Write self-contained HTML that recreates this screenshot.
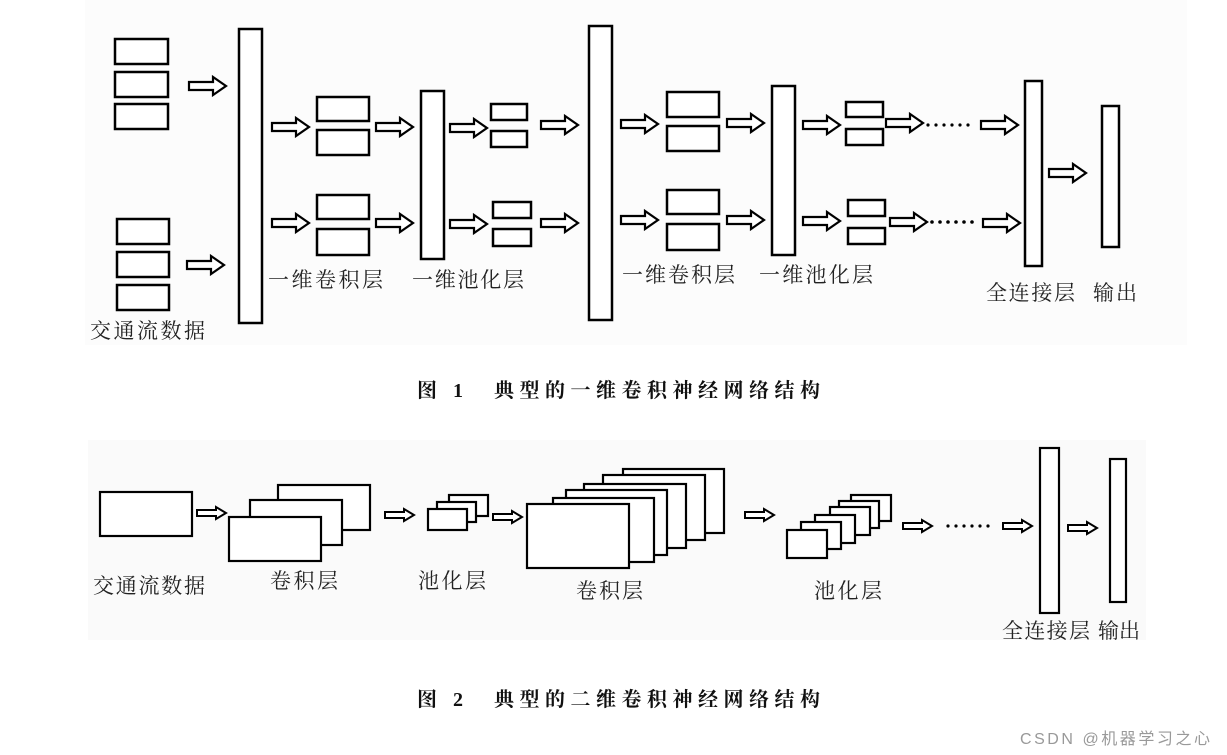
<!DOCTYPE html>
<html><head><meta charset="utf-8"><style>
html,body{margin:0;padding:0;background:#fff;}
svg{display:block;}
.t{font-family:"Liberation Serif","Noto Serif CJK SC","Noto Sans CJK SC",serif;fill:#222;}
.c{font-family:"Liberation Serif","Noto Serif CJK SC",serif;font-weight:bold;fill:#111;}
</style></head><body>
<svg width="1227" height="755" viewBox="0 0 1227 755" xmlns="http://www.w3.org/2000/svg">
<defs>
<path id="a1" d="M0,-4 H24 V-9 L37,0 L24,9 V4 H0 Z" fill="#fff" stroke="#000" stroke-width="2.2"/>
<path id="a2" d="M0,-3 H19 V-6 L29,0 L19,6 V3 H0 Z" fill="#fff" stroke="#000" stroke-width="2"/>
</defs>
<rect x="85" y="0" width="1102" height="345" fill="#fcfcfc"/>
<rect x="88" y="440" width="1058" height="200" fill="#fafafa"/>
<g fill="#fff" stroke="#000" stroke-width="2.5">
<!-- fig1 input -->
<rect x="115" y="39" width="53" height="25"/><rect x="115" y="72" width="53" height="25"/><rect x="115" y="104" width="53" height="25"/>
<rect x="117" y="219" width="52" height="25"/><rect x="117" y="252" width="52" height="25"/><rect x="117" y="285" width="52" height="25"/>
<rect x="239" y="29" width="23" height="294"/>
<rect x="317" y="97" width="52" height="24"/><rect x="317" y="130" width="52" height="25"/>
<rect x="317" y="195" width="52" height="24"/><rect x="317" y="229" width="52" height="26"/>
<rect x="421" y="91" width="23" height="168"/>
<rect x="491" y="104" width="36" height="16"/><rect x="491" y="131" width="36" height="16"/>
<rect x="493" y="202" width="38" height="16"/><rect x="493" y="229" width="38" height="17"/>
<rect x="589" y="26" width="23" height="294"/>
<rect x="667" y="92" width="52" height="25"/><rect x="667" y="126" width="52" height="25"/>
<rect x="667" y="190" width="52" height="24"/><rect x="667" y="224" width="52" height="26"/>
<rect x="772" y="86" width="23" height="169"/>
<rect x="846" y="102" width="37" height="15"/><rect x="846" y="129" width="37" height="16"/>
<rect x="848" y="200" width="37" height="16"/><rect x="848" y="228" width="37" height="16"/>
<rect x="1025" y="81" width="17" height="185"/>
<rect x="1102" y="106" width="17" height="141"/>
</g>
<g>
<use href="#a1" x="189" y="86"/><use href="#a1" x="187" y="265"/>
<use href="#a1" x="272" y="127"/><use href="#a1" x="272" y="223"/>
<use href="#a1" x="376" y="127"/><use href="#a1" x="376" y="223"/>
<use href="#a1" x="450" y="128"/><use href="#a1" x="450" y="224"/>
<use href="#a1" x="541" y="125"/><use href="#a1" x="541" y="223"/>
<use href="#a1" x="621" y="124"/><use href="#a1" x="621" y="220"/>
<use href="#a1" x="727" y="123"/><use href="#a1" x="727" y="220"/>
<use href="#a1" x="803" y="125"/><use href="#a1" x="803" y="221"/>
<use href="#a1" x="886" y="123"/><use href="#a1" x="890" y="222"/>
<use href="#a1" x="981" y="125"/><use href="#a1" x="983" y="223"/>
<use href="#a1" x="1049" y="173"/>
</g>
<g fill="#000">
<circle cx="928" cy="125" r="1.6"/><circle cx="936" cy="125" r="1.6"/><circle cx="944" cy="125" r="1.6"/><circle cx="952" cy="125" r="1.6"/><circle cx="960" cy="125" r="1.6"/><circle cx="968" cy="125" r="1.6"/>
<circle cx="932" cy="222" r="1.8"/><circle cx="940" cy="222" r="1.8"/><circle cx="948" cy="222" r="1.8"/><circle cx="956" cy="222" r="1.8"/><circle cx="964" cy="222" r="1.8"/><circle cx="972" cy="222" r="1.8"/>
</g>
<g class="t" font-size="21">
<text x="268" y="287" textLength="115">一维卷积层</text>
<text x="412" y="287" textLength="112">一维池化层</text>
<text x="90" y="338" textLength="115">交通流数据</text>
<text x="622" y="282" textLength="113">一维卷积层</text>
<text x="759" y="282" textLength="114">一维池化层</text>
<text x="986" y="300" textLength="89">全连接层</text>
<text x="1093" y="300" textLength="44">输出</text>
</g>
<text class="c" x="417" y="397" font-size="20" textLength="403">图 1　典型的一维卷积神经网络结构</text>

<!-- fig2 -->
<g fill="#fff" stroke="#000" stroke-width="2.2">
<rect x="100" y="492" width="92" height="44"/>
<rect x="278" y="485" width="92" height="45"/><rect x="250" y="500" width="92" height="45"/><rect x="229" y="517" width="92" height="44"/>
<rect x="449" y="495" width="39" height="21"/><rect x="437" y="502" width="39" height="20"/><rect x="428" y="509" width="39" height="21"/>
<rect x="623" y="469" width="101" height="64"/><rect x="603" y="475" width="102" height="65"/><rect x="584" y="484" width="102" height="64"/><rect x="566" y="490" width="101" height="65"/><rect x="553" y="498" width="101" height="64"/><rect x="527" y="504" width="102" height="64"/>
<rect x="851" y="495" width="40" height="26"/><rect x="839" y="501" width="40" height="27"/><rect x="830" y="507" width="40" height="28"/><rect x="815" y="515" width="40" height="28"/><rect x="801" y="522" width="40" height="27"/><rect x="787" y="530" width="40" height="28"/>
<rect x="1040" y="448" width="19" height="165"/>
<rect x="1110" y="459" width="16" height="143"/>
</g>
<g>
<use href="#a2" x="197" y="513"/><use href="#a2" x="385" y="515"/><use href="#a2" x="493" y="517"/>
<use href="#a2" x="745" y="515"/><use href="#a2" x="903" y="526"/><use href="#a2" x="1003" y="526"/><use href="#a2" x="1068" y="528"/>
</g>
<g fill="#000">
<circle cx="948" cy="526" r="1.6"/><circle cx="956" cy="526" r="1.6"/><circle cx="964" cy="526" r="1.6"/><circle cx="972" cy="526" r="1.6"/><circle cx="980" cy="526" r="1.6"/><circle cx="988" cy="526" r="1.6"/>
</g>
<g class="t" font-size="21">
<text x="93" y="593" textLength="112">交通流数据</text>
<text x="270" y="588" textLength="68">卷积层</text>
<text x="418" y="588" textLength="68">池化层</text>
<text x="576" y="598" textLength="67">卷积层</text>
<text x="814" y="598" textLength="68">池化层</text>
<text x="1002" y="638" textLength="88">全连接层</text>
<text x="1098" y="638" textLength="42">输出</text>
</g>
<text class="c" x="417" y="706" font-size="20" textLength="403">图 2　典型的二维卷积神经网络结构</text>
<text x="1020" y="744" font-size="16" fill="#999" font-family="Liberation Sans,'Noto Sans CJK SC',sans-serif" textLength="190">CSDN @机器学习之心</text>
</svg>
</body></html>
